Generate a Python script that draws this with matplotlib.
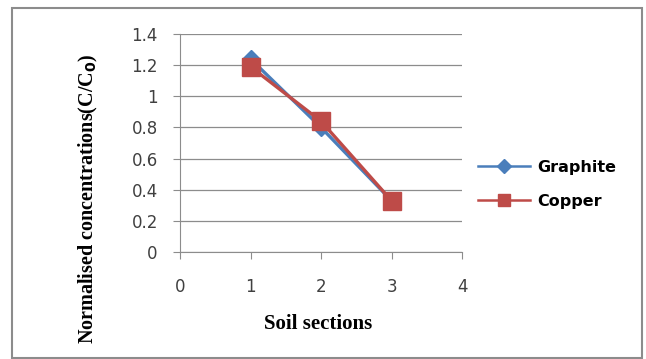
import matplotlib.pyplot as plt
from matplotlib.patches import Rectangle

# data
sections = [1, 2, 3]
graphite = [1.24, 0.80, 0.33]
copper = [1.19, 0.84, 0.33]
yticks = [0, 0.2, 0.4, 0.6, 0.8, 1, 1.2, 1.4]
ytick_labels = ["0", "0.2", "0.4", "0.6", "0.8", "1", "1.2", "1.4"]
xticks = [0, 1, 2, 3, 4]

W, H = 646, 359
fig = plt.figure(figsize=(W / 100, H / 100), dpi=100)
fig.patches.append(Rectangle((12 / W, 1 / H), 630 / W, 350 / H, transform=fig.transFigure,
                             fill=False, edgecolor="#8c8c8c", linewidth=1.5))

ax = fig.add_axes([180 / W, 1 - 252 / H, (462 - 180) / W, (252 - 34) / H])

ax.plot(sections, graphite, color="#4a7ebb", marker="D", markersize=9, linewidth=2.4, label="Graphite")
ax.plot(sections, copper, color="#be4b48", marker="s", markersize=13.5, linewidth=2.4, label="Copper")

ax.set_xlim(0, 4)
ax.set_ylim(0, 1.4)
ax.set_xticks(xticks)
ax.set_yticks(yticks)
ax.set_yticklabels(ytick_labels)
ax.yaxis.grid(True, color="#8c8c8c", linewidth=0.9)
ax.set_axisbelow(True)
for s in ["top", "right"]:
    ax.spines[s].set_visible(False)
for s in ["left", "bottom"]:
    ax.spines[s].set_color("#8c8c8c")
ax.tick_params(axis="both", colors="#8c8c8c", length=5, labelcolor="#404040", labelsize=12)
ax.tick_params(axis="x", pad=14)
ax.tick_params(axis="y", pad=11)

ax.set_xlabel("Soil sections", family="Liberation Serif", fontweight="bold", fontsize=15)
ax.xaxis.set_label_coords(0.49, -0.285)
ax.set_ylabel(r"Normalised concentrations(C/C$_\mathbf{0}$)", family="Liberation Serif",
              fontweight="bold", fontsize=14.5)
ax.yaxis.set_label_coords(-0.283, 0.245)

leg = ax.legend(loc="center left", bbox_to_anchor=(1.005, 0.31), frameon=False, handlelength=3.3,
                handletextpad=0.4, labelspacing=1.2,
                prop={"family": "DejaVu Sans", "weight": "bold", "size": 11.5})
for line, ms in zip(leg.get_lines(), [7, 9]):
    line.set_markersize(ms)
    line.set_linewidth(1.8)

fig.savefig("out.png", dpi=100)
